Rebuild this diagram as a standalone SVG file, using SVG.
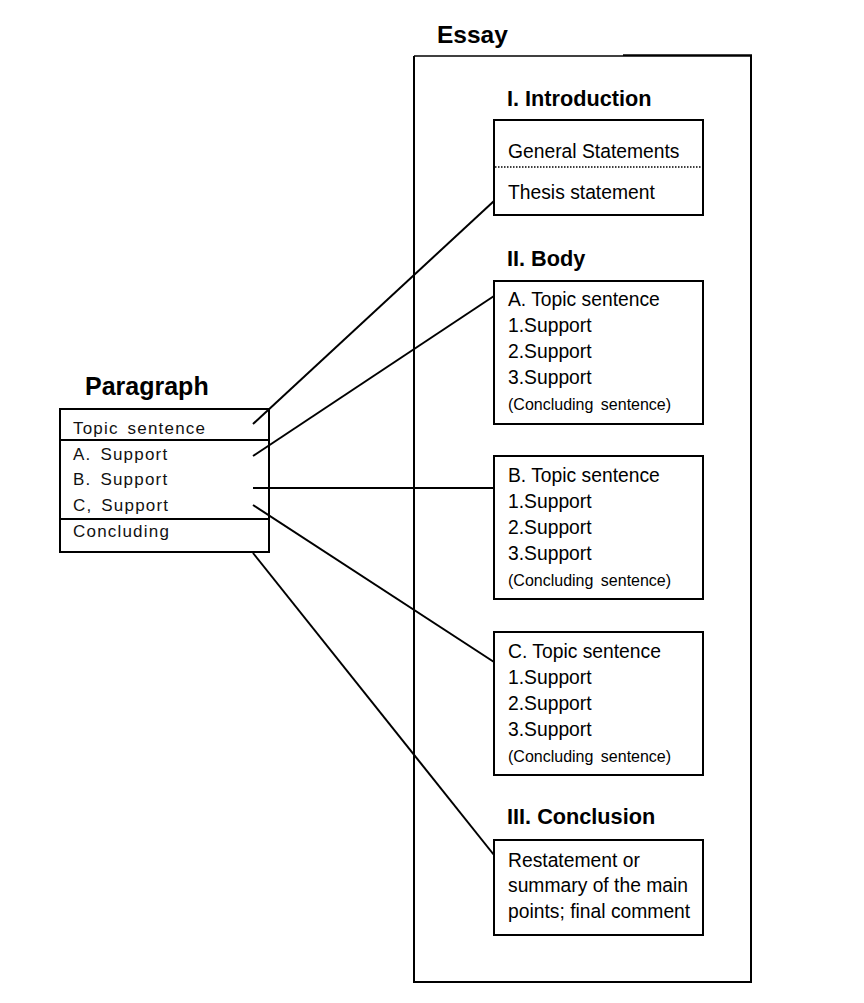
<svg xmlns="http://www.w3.org/2000/svg" width="864" height="1003" viewBox="0 0 864 1003">
<style>
.box{fill:#fff;stroke:#000;stroke-width:2}
.ln{stroke:#000;stroke-width:2;fill:none}
.h{font-family:"Liberation Sans",Arial,sans-serif;font-weight:bold;fill:#000}
.t{font-family:"Liberation Sans",Arial,sans-serif;font-size:19.3px;fill:#000}
.s{font-family:"Liberation Sans",Arial,sans-serif;font-size:16px;fill:#000;word-spacing:3px}
.p{font-family:"Liberation Sans",Arial,sans-serif;font-size:17px;fill:#111;letter-spacing:1.2px;word-spacing:3px}
</style>
<rect width="864" height="1003" fill="#fff"/>
<g id="essay">
  <text class="h" x="437" y="43" font-size="24.5">Essay</text>
  <path class="ln" d="M414,56 V982 H751 V56"/>
  <line x1="414" y1="56" x2="623" y2="56" stroke="#000" stroke-width="1.5"/>
  <line x1="623" y1="55.5" x2="752" y2="55.5" stroke="#000" stroke-width="2.5"/>
</g>
<g id="introduction">
  <text class="h" x="507" y="106" font-size="21.7">I. Introduction</text>
  <rect class="box" x="494" y="120" width="209" height="95"/>
  <line x1="495" y1="167" x2="702" y2="167" stroke="#000" stroke-width="1.5" stroke-dasharray="1.5,1.5"/>
  <text class="t" x="508" y="158">General Statements</text>
  <text class="t" x="508" y="199">Thesis statement</text>
</g>
<g id="body-a">
  <text class="h" x="507" y="266" font-size="21.7">II. Body</text>
  <rect class="box" x="494" y="281" width="209" height="143"/>
  <text class="t" x="508" y="306">A. Topic sentence</text>
  <text class="t" x="508" y="332">1.Support</text>
  <text class="t" x="508" y="358">2.Support</text>
  <text class="t" x="508" y="384">3.Support</text>
  <text class="s" x="508" y="410">(Concluding sentence)</text>
</g>
<g id="body-b">
  <rect class="box" x="494" y="456" width="209" height="143"/>
  <text class="t" x="508" y="482">B. Topic sentence</text>
  <text class="t" x="508" y="508">1.Support</text>
  <text class="t" x="508" y="534">2.Support</text>
  <text class="t" x="508" y="560">3.Support</text>
  <text class="s" x="508" y="586">(Concluding sentence)</text>
</g>
<g id="body-c">
  <rect class="box" x="494" y="632" width="209" height="143"/>
  <text class="t" x="508" y="658">C. Topic sentence</text>
  <text class="t" x="508" y="684">1.Support</text>
  <text class="t" x="508" y="710">2.Support</text>
  <text class="t" x="508" y="736">3.Support</text>
  <text class="s" x="508" y="762">(Concluding sentence)</text>
</g>
<g id="conclusion">
  <text class="h" x="507" y="824" font-size="21.7">III. Conclusion</text>
  <rect class="box" x="494" y="840" width="209" height="95"/>
  <text class="t" x="508" y="867">Restatement or</text>
  <text class="t" x="508" y="892">summary of the main</text>
  <text class="t" x="508" y="918">points; final comment</text>
</g>
<g id="paragraph">
  <text class="h" x="85" y="395" font-size="25">Paragraph</text>
  <rect class="box" x="60" y="409" width="209" height="143"/>
  <line class="ln" x1="60" y1="440" x2="269" y2="440"/>
  <line class="ln" x1="60" y1="519" x2="269" y2="519"/>
  <text class="p" x="73" y="434">Topic  sentence</text>
  <text class="p" x="73" y="460">A. Support</text>
  <text class="p" x="73" y="485">B. Support</text>
  <text class="p" x="73" y="511">C, Support</text>
  <text class="p" x="73" y="537">Concluding</text>
</g>
<g id="connectors">
  <line class="ln" x1="253" y1="424" x2="494" y2="201"/>
  <line class="ln" x1="253" y1="456" x2="494" y2="296"/>
  <line class="ln" x1="253" y1="488" x2="494" y2="488"/>
  <line class="ln" x1="253" y1="505" x2="494" y2="662"/>
  <line class="ln" x1="253" y1="553" x2="494" y2="855"/>
</g>
</svg>
